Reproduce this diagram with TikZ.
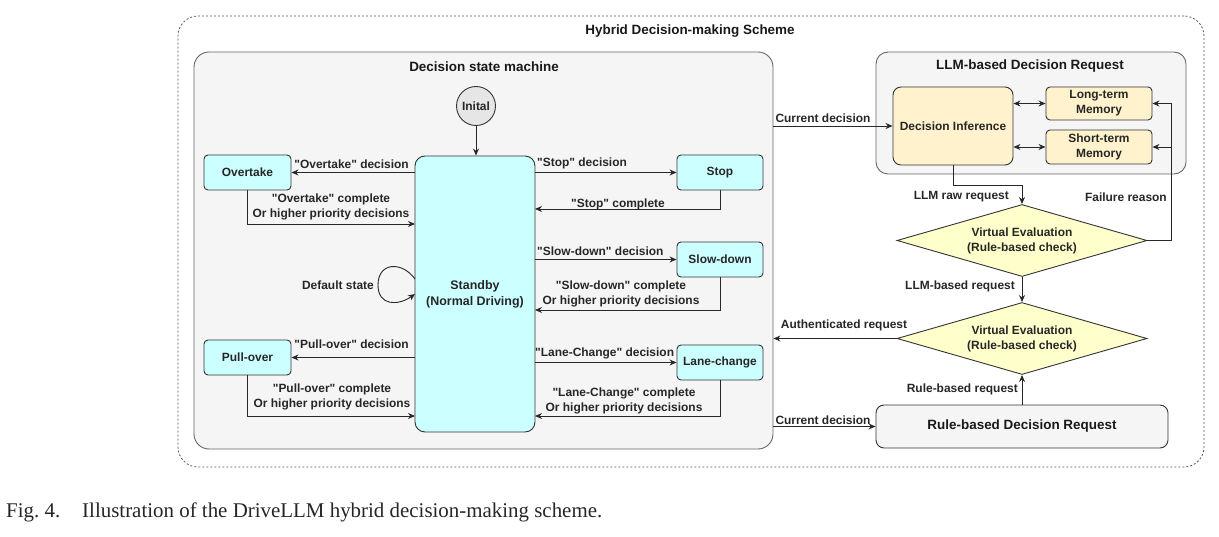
\documentclass[tikz,border=0pt]{standalone}
\usepackage{fontspec}
\setmainfont[Ligatures=TeXOff]{Liberation Sans}
\newfontfamily\capfont{Liberation Serif}
\usetikzlibrary{shapes.geometric,arrows.meta}
\definecolor{cyanfill}{RGB}{204,255,255}
\definecolor{grayfill}{RGB}{245,245,245}
\definecolor{initfill}{RGB}{230,230,230}
\definecolor{difill}{RGB}{255,242,204}
\definecolor{dmfill}{RGB}{255,255,204}
\definecolor{edge}{RGB}{51,51,51}
\definecolor{lineclr}{RGB}{40,40,40}
\tikzset{
  lbl/.style={font=\fontsize{12}{14.5}\selectfont\bfseries, text=black!85, inner sep=0pt, align=center},
  ttl/.style={font=\fontsize{13.5}{16}\selectfont\bfseries, text=black!90, inner sep=0pt},
  state/.style={draw=edge, fill=cyanfill, rounded corners=4bp, line width=0.9bp, minimum width=86bp, minimum height=35bp, inner sep=0pt, font=\fontsize{12}{14.5}\selectfont\bfseries, text=black!85},
  cont/.style={draw=black!60, fill=grayfill, line width=0.9bp, inner sep=0pt},
  membox/.style={draw=edge, fill=difill, rounded corners=4bp, line width=0.9bp, inner sep=0pt, align=center, font=\fontsize{12}{15}\selectfont\bfseries, text=black!85},
  dmd/.style={diamond, aspect=3.5, draw=edge, fill=dmfill, line width=0.9bp, minimum width=250bp, minimum height=72bp, inner sep=0pt, align=center, font=\fontsize{12}{15}\selectfont\bfseries, text=black!85},
  arr/.style={draw=lineclr, line width=0.9bp, -{Stealth[length=7bp,width=6bp]}},
  darr/.style={draw=lineclr, line width=0.9bp, {Stealth[length=7bp,width=6bp]}-{Stealth[length=7bp,width=6bp]}},
}
\begin{document}
\begin{tikzpicture}[x=1bp,y=-1bp]
\useasboundingbox (0,0) rectangle (1219,537);
% outer dashed frame
\node[draw=black!65, dash pattern=on 2bp off 2bp, line width=0.8bp, rounded corners=20bp, minimum width=1026bp, minimum height=451bp, inner sep=0pt] (outer) at (691,241.5) {};
\node[ttl] (ttlout) at (690,31) {Hybrid Decision-making Scheme};
% decision state machine container
\node[cont, rounded corners=15bp, minimum width=579bp, minimum height=397bp] (dsm) at (483.5,250.5) {};
\node[ttl] (ttldsm) at (484,67) {Decision state machine};
% states
\node[circle, draw=edge, fill=initfill, line width=0.9bp, minimum size=39bp, inner sep=0pt, font=\fontsize{12}{14}\selectfont\bfseries, text=black!85] (ini) at (476,106) {Inital};
\node[state, rounded corners=10bp, minimum width=120bp, minimum height=276bp, align=center, font=\fontsize{12.5}{16}\selectfont\bfseries] (stb) at (475,294) {Standby\\(Normal Driving)};
\node[state, minimum width=87bp] (ot) at (247.5,172.5) {Overtake};
\node[state] (st) at (720,172.5) {Stop};
\node[state] (sd) at (720,259.5) {Slow-down};
\node[state, minimum width=87bp] (po) at (247.5,357.5) {Pull-over};
\node[state] (lc) at (720,362.5) {Lane-change};
% state arrows
\draw[arr] (ini) -- (stb.north -| ini);
\draw[arr] (ot.east -| stb.west) -- (ot.east);
\coordinate (otr) at (415,224);
\draw[arr] (ot.south) |- (otr);
\draw[arr] (st.west -| stb.east) -- (st.west);
\coordinate (str) at (535,209);
\draw[arr] (st.south) |- (str);
\draw[arr] (sd.west -| stb.east) -- (sd.west);
\coordinate (sdr) at (535,310);
\draw[arr] (sd.south) |- (sdr);
\draw[arr] (po.east -| stb.west) -- (po.east);
\coordinate (por) at (415,416);
\draw[arr] (po.south) |- (por);
\draw[arr] (lc.west -| stb.east) -- (lc.west);
\coordinate (lcr) at (535,416);
\draw[arr] (lc.south) |- (lcr);
\coordinate (loopa) at (415,279);
\coordinate (loopm) at (378,285);
\coordinate (loopb) at (415,294);
\draw[arr] (loopa) .. controls (402,261) and (378,262) .. (loopm) .. controls (378,306) and (398,306) .. (loopb);
% state labels
\node[lbl, anchor=east] (l1) at (409,164) {"Overtake" decision};
\node[lbl] (l2) at (331,207) {"Overtake" complete\\Or higher priority decisions};
\node[lbl, anchor=west] (l3) at (537,163) {"Stop" decision};
\node[lbl] (l4) at (618,204) {"Stop" complete};
\node[lbl, anchor=west] (l5) at (537,251) {"Slow-down" decision};
\node[lbl] (l6) at (621,294) {"Slow-down" complete\\Or higher priority decisions};
\node[lbl, anchor=east] (l7) at (374,285) {Default state};
\node[lbl, anchor=east] (l8) at (409,344) {"Pull-over" decision};
\node[lbl] (l9) at (332,397) {"Pull-over" complete\\Or higher priority decisions};
\node[lbl, anchor=west] (l10) at (535,353) {"Lane-Change" decision};
\node[lbl] (l11) at (624,401) {"Lane-Change" complete\\Or higher priority decisions};
% LLM container
\node[cont, rounded corners=12bp, minimum width=310bp, minimum height=122bp] (llm) at (1031,113) {};
\node[ttl] (ttlllm) at (1030,66) {LLM-based Decision Request};
\node[membox, rounded corners=8bp, minimum width=120bp, minimum height=78bp] (di) at (953,126) {Decision Inference};
\node[membox, minimum width=106bp, minimum height=33bp] (ltm) at (1099,103.5) {Long-term\\Memory};
\node[membox, minimum width=106bp, minimum height=34bp] (stm) at (1099,147) {Short-term\\Memory};
\draw[darr] (di.east |- ltm.west) -- (ltm.west);
\draw[darr] (di.east |- stm.west) -- (stm.west);
% diamonds
\node[dmd] (d1) at (1022,240.5) {Virtual Evaluation\\(Rule-based check)};
\node[dmd] (d2) at (1022,338.5) {Virtual Evaluation\\(Rule-based check)};
% rule-based box
\node[cont, draw=edge, rounded corners=8bp, minimum width=292bp, minimum height=43bp, font=\fontsize{13.5}{16}\selectfont\bfseries, text=black!90] (rb) at (1022,426.5) {Rule-based Decision Request};
% right connectors
\draw[arr] (dsm.east |- di.west) -- (di.west);
\draw[arr] (dsm.east |- rb.west) -- (rb.west);
\draw[arr] (d2.west) -- (d2.west -| dsm.east);
\coordinate (k1) at (953,185);
\draw[arr] (di.south) -- (k1) -| (d1.north);
\draw[arr] (d1.south) -- (d2.north);
\draw[arr] (rb.north) -- (d2.south);
\coordinate (fr) at (1171,103.5);
\draw[arr] (d1.east) -| (fr) -- (ltm.east);
\draw[arr] (stm.east -| fr) -- (stm.east);
% right labels
\node[lbl] (r1) at (823,118) {Current decision};
\node[lbl] (r2) at (823,420) {Current decision};
\node[lbl] (r3) at (844,325) {Authenticated request};
\node[lbl, anchor=east] (r4) at (1009,197) {LLM raw request};
\node[lbl, anchor=east] (r5) at (1167,197) {Failure reason};
\node[lbl, anchor=east] (r6) at (1015,286) {LLM-based request};
\node[lbl, anchor=east] (r7) at (1018,389) {Rule-based request};
% caption
\node[anchor=west, inner sep=0pt, font=\capfont\fontsize{21}{24}\selectfont, text=black!85] (cap) at (6,512) {Fig.~4.\hskip 22bp Illustration of the DriveLLM hybrid decision-making scheme.};
\end{tikzpicture}
\end{document}
